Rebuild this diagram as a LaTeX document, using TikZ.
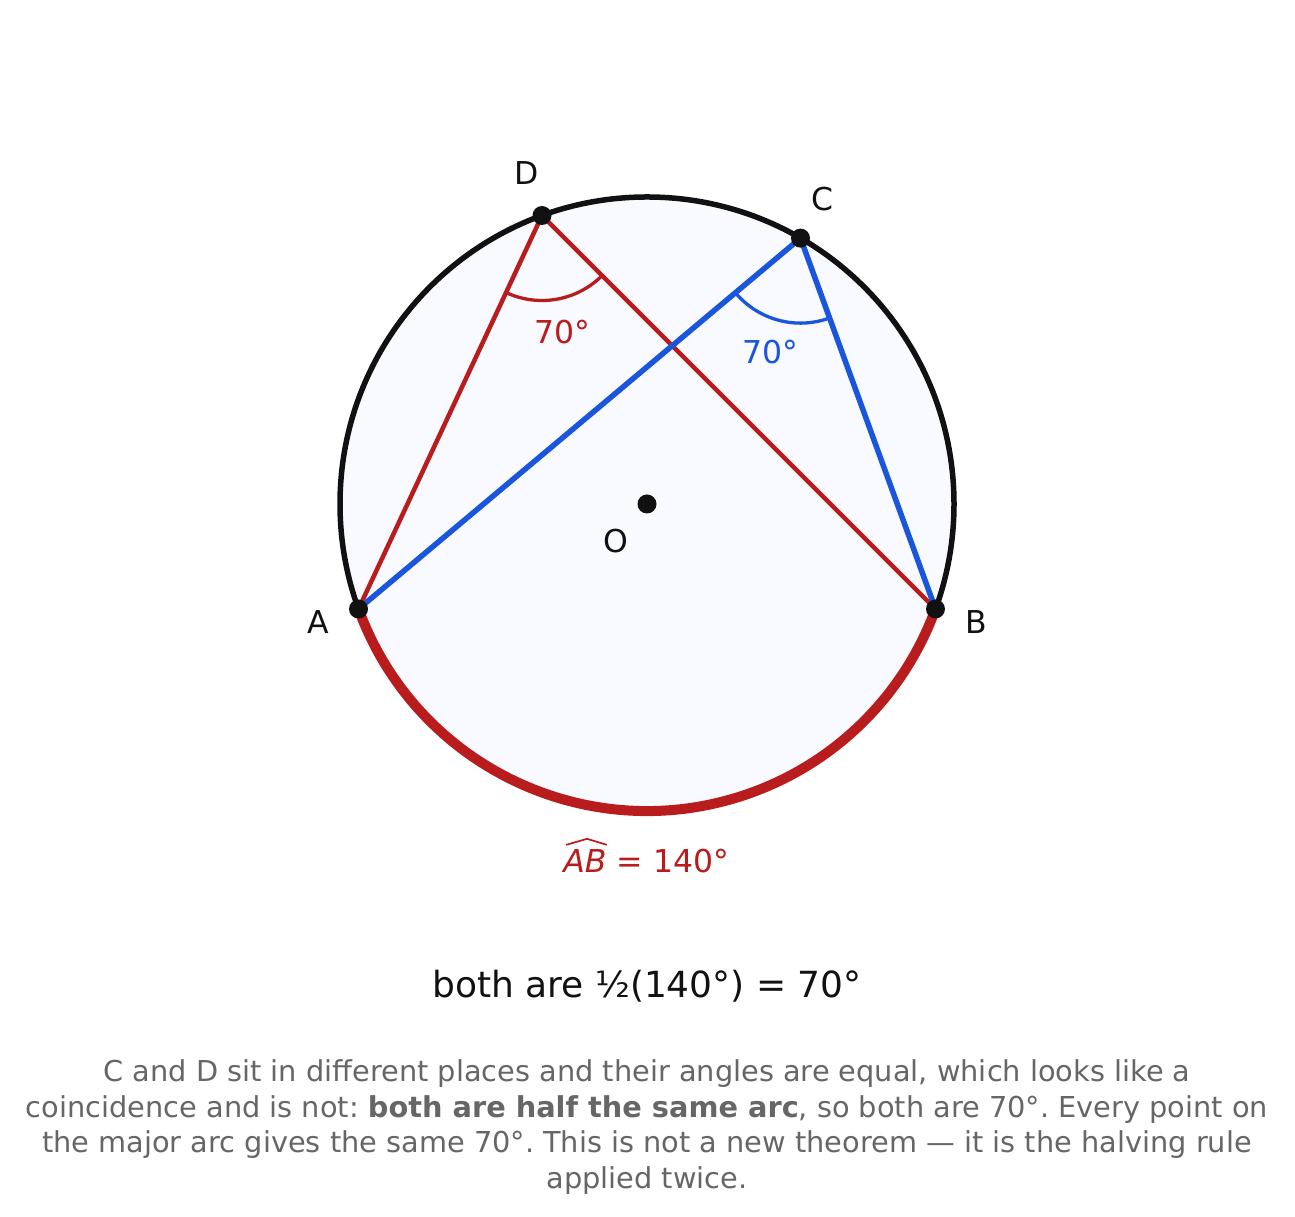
\documentclass[tikz,border=0pt]{standalone}
\usepackage{fontspec}
\setmainfont{DejaVu Sans}
\usetikzlibrary{calc}
\frenchspacing
\definecolor{arcred}{HTML}{B91C1C}
\definecolor{chordblue}{HTML}{1A56DB}
\definecolor{ink}{HTML}{111111}
\definecolor{capgray}{HTML}{666666}
\definecolor{discfill}{HTML}{F8FAFF}
\begin{document}
\begin{tikzpicture}[x=1pt,y=1pt,
  ptlabel/.style={font=\fontsize{31.5}{36}\selectfont, text=ink, inner sep=0},
  anglabel/.style={font=\fontsize{31.5}{36}\selectfont, inner sep=0},
  ptdot/.style={circle, fill=ink, minimum size=19pt, inner sep=0},
  capline/.style={font=\fontsize{28.8}{35}\selectfont, text=capgray, anchor=base, inner sep=0},
  redchord/.style={arcred, line width=4.5pt, line join=round, line cap=round},
  bluechord/.style={chordblue, line width=5.5pt, line join=round, line cap=round},
  angarc/.style={line width=3.3pt},
]
\useasboundingbox (0,0) rectangle (1295,1217);
\def\R{307}
\coordinate (O) at (647,713);
\coordinate (A) at ($(O)+(200:\R)$);
\coordinate (B) at ($(O)+(340:\R)$);
\coordinate (C) at ($(O)+(60:\R)$);
\coordinate (D) at ($(O)+(110:\R)$);
% disc
\fill[discfill] (O) circle (\R);
\draw[ink, line width=5.5pt] (O) circle (\R);
\draw[arcred, line width=10pt] (A) arc (200:340:\R);
% chords
\draw[redchord] (A) -- (D) -- (B);
\draw[bluechord] (A) -- (C) -- (B);
% angle marks
\draw[angarc, arcred] ($(D)+(245:85)$) arc (245:315:85);
\draw[angarc, chordblue] ($(C)+(220:85)$) arc (220:290:85);
\node[anglabel, text=arcred] (angD) at ($(D)+(280:118)$) {70°};
\node[anglabel, text=chordblue] (angC) at ($(C)+(255:118)$) {70°};
% dots
\node[ptdot] (dA) at (A) {};
\node[ptdot] (dB) at (B) {};
\node[ptdot] (dC) at (C) {};
\node[ptdot] (dD) at (D) {};
\node[ptdot] (dO) at (O) {};
% point labels
\node[ptlabel] (lD) at (527,1044) {D};
\node[ptlabel] (lC) at (822,1018) {C};
\node[ptlabel] (lA) at (318,595) {A};
\node[ptlabel] (lB) at (976,595) {B};
\node[ptlabel] (lO) at (616,676) {O};
% arc label
\node[anglabel, text=arcred, anchor=base] (abtxt) at (585,344) {\itshape AB};
\node[anglabel, text=arcred, anchor=base west] (abval) at ($(abtxt.base east)+(10,0)$) {= 140°};
\draw[arcred, line width=1.7pt, line join=round] ($(abtxt.north west)+(3,5)$) -- ($(abtxt.north)+(2,11)$) -- ($(abtxt.north east)+(0,5)$);
% title
\node[font=\fontsize{36}{42}\selectfont, text=ink, anchor=base, inner sep=0] (title) at (647,219) {both are ½(140°) = 70°};
% caption
\node[capline] (cap1) at (647,135) {C and D sit in different places and their angles are equal, which looks like a};
\node[capline] (cap2) at (647,99.5) {coincidence and is not: \textbf{both are half the same arc}, so both are 70°. Every point on};
\node[capline] (cap3) at (647,64) {the major arc gives the same 70°. This is not a new theorem — it is the halving rule};
\node[capline] (cap4) at (647,28.5) {applied twice.};
\end{tikzpicture}
\end{document}
